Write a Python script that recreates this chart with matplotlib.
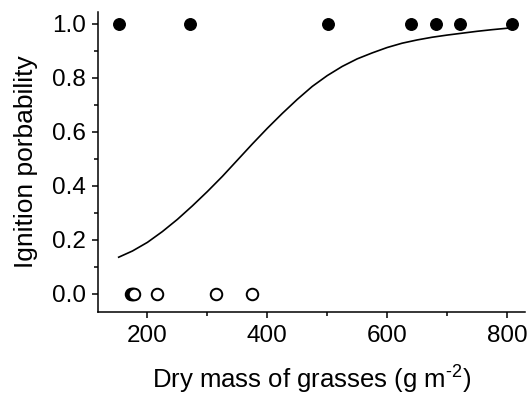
import matplotlib
matplotlib.use("Agg")
import matplotlib.pyplot as plt
from matplotlib.ticker import MultipleLocator

plt.rcParams['font.family'] = ['Liberation Sans', 'DejaVu Sans']
plt.rcParams['mathtext.fontset'] = 'custom'
plt.rcParams['mathtext.rm'] = 'Liberation Sans'

## observed fires (ignited = 1) and non-ignitions (0)
ignited_x = [153, 271, 502, 639, 681, 722, 808]
ignited_y = [1, 1, 1, 1, 1, 1, 1]
unignited_x = [172, 174, 176, 177, 216, 315, 374]
unignited_y = [0, 0, 0, 0, 0, 0, 0]

## fitted curve
curve_x = [152, 175, 200, 225, 250, 275, 300, 325, 350, 375, 400, 425, 450, 475,
           500, 525, 550, 575, 600, 625, 650, 675, 700, 725, 750, 775, 808]
curve_y = [0.136, 0.159, 0.191, 0.231, 0.276, 0.326, 0.379, 0.435, 0.495, 0.555,
           0.613, 0.668, 0.720, 0.768, 0.808, 0.842, 0.870, 0.892, 0.912, 0.928,
           0.940, 0.950, 0.958, 0.965, 0.972, 0.978, 0.985]

fig = plt.figure(figsize=(5.3, 3.95), dpi=100)
ax = fig.add_axes([0.1855, 0.21, 0.805, 0.76])

ax.plot(curve_x, curve_y, color='black', linewidth=1.2, solid_joinstyle='round', zorder=2)
ax.plot(ignited_x, ignited_y, 'o', color='black', markersize=8.3, zorder=3, clip_on=False)
ax.plot(unignited_x, unignited_y, 'o', markerfacecolor='white', markeredgecolor='black',
        markeredgewidth=1.4, markersize=8.3, zorder=3, clip_on=False)

## axes look
ax.set_xlim(118, 830)
ax.set_ylim(-0.067, 1.044)
ax.xaxis.set_major_locator(MultipleLocator(200))
ax.xaxis.set_minor_locator(MultipleLocator(100))
ax.yaxis.set_major_locator(MultipleLocator(0.2))
ax.yaxis.set_minor_locator(MultipleLocator(0.1))
ax.yaxis.set_major_formatter(plt.FormatStrFormatter('%.1f'))
ax.spines['top'].set_visible(False)
ax.spines['right'].set_visible(False)
for s in ['left', 'bottom']:
    ax.spines[s].set_linewidth(1.1)
ax.tick_params(which='major', direction='out', length=4, width=1.1, labelsize=17.5, pad=5)
ax.tick_params(which='minor', direction='out', length=3, width=1.1)

ax.set_xlabel('Dry mass of grasses (g m$^{\\text{-2}}$)', fontsize=18.5, labelpad=11)
ax.set_ylabel('Ignition porbability', fontsize=19, labelpad=10)

plt.savefig('out.png', dpi=100)
